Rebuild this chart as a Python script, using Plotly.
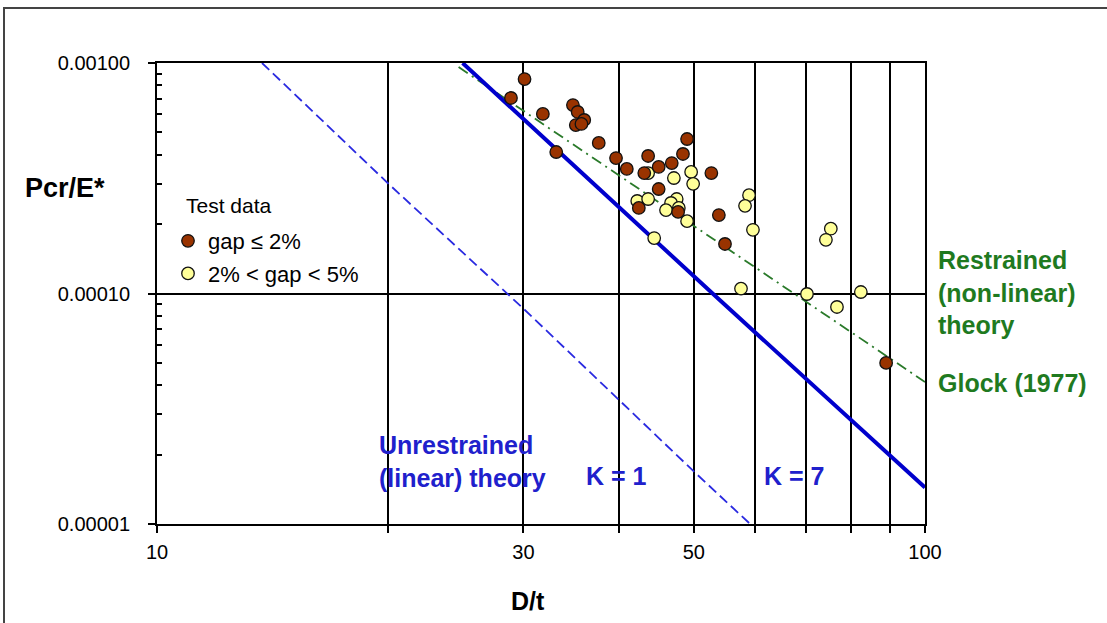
import plotly.graph_objects as go

# ---- data ----
brown_dt = [28.9, 30.1, 31.8, 33.1, 34.8, 35.3, 36.0, 35.1, 35.7, 37.6, 39.6, 40.9, 43.6, 43.1,
            45.0, 46.8, 48.4, 49.0, 52.7, 45.0, 42.4, 47.7, 53.9, 54.9, 89.0]
brown_p = [7.05e-4, 8.52e-4, 6.01e-4, 4.11e-4, 6.57e-4, 6.13e-4, 5.66e-4, 5.38e-4, 5.44e-4, 4.50e-4,
           3.87e-4, 3.47e-4, 3.95e-4, 3.33e-4, 3.54e-4, 3.68e-4, 4.03e-4, 4.68e-4, 3.33e-4, 2.84e-4,
           2.35e-4, 2.26e-4, 2.19e-4, 1.64e-4, 5.0e-5]

yellow_dt = [43.6, 47.1, 49.6, 49.9, 42.2, 43.6, 47.5, 46.7, 46.0, 47.8, 49.0, 44.4, 59.0, 58.3,
             59.7, 57.6, 75.4, 74.3, 70.2, 76.8, 82.5]
yellow_p = [3.33e-4, 3.17e-4, 3.37e-4, 2.99e-4, 2.52e-4, 2.57e-4, 2.57e-4, 2.47e-4, 2.30e-4, 2.35e-4,
            2.06e-4, 1.74e-4, 2.67e-4, 2.40e-4, 1.89e-4, 1.05e-4, 1.91e-4, 1.71e-4, 9.95e-5, 8.74e-5,
            1.015e-4]

k1_dt = [13.7, 20, 30, 40, 50, 59.2]
k1_p = [1.0e-3, 3.0e-4, 8.6e-5, 3.45e-5, 1.69e-5, 1.0e-5]

k7_dt = [25.0, 30, 40, 52.9, 70, 100]
k7_p = [1.0e-3, 5.74e-4, 2.36e-4, 1.0e-4, 4.26e-5, 1.44e-5]

glock_dt = [24.7, 100]
glock_p = [9.6e-4, 4.13e-5]

x_tickvals = [10, 20, 30, 40, 50, 60, 70, 80, 90, 100]
x_ticktext = ["10", "", "30", "", "50", "", "", "", "", "100"]
y_tickvals = [1e-5, 1e-4, 1e-3]
y_ticktext = ["0.00001", "0.00010", "0.00100"]
y_minor = [m * 10.0 ** e for e in (-5, -4) for m in range(2, 10)]

# ---- layout geometry (pixels) ----
W, H = 1107, 623
L, R, T, B = 157, 925, 63, 524
PW, PH = R - L, B - T


def px(x):
    return (x - L) / PW


def py(y):
    return 1 - (y - T) / PH


FONT = "Liberation Sans, Arial, sans-serif"
BLUE_TXT = "#2020CC"
GREEN_TXT = "#1F7A1F"

fig = go.Figure()

fig.add_trace(go.Scatter(x=k1_dt, y=k1_p, mode="lines", showlegend=False,
                         line=dict(color="#2A2AE0", width=1.8, dash="10px,5px")))
fig.add_trace(go.Scatter(x=glock_dt, y=glock_p, mode="lines", showlegend=False,
                         line=dict(color="#2A7A2A", width=1.8, dash="11px,5px,2px,5px")))
fig.add_trace(go.Scatter(x=k7_dt, y=k7_p, mode="lines", showlegend=False,
                         line=dict(color="#0000CC", width=4)))
fig.add_trace(go.Scatter(x=yellow_dt, y=yellow_p, mode="markers", name="2% &lt; gap &lt; 5%",
                         legendrank=2, legendgroup="b",
                         marker=dict(size=12.5, color="#FFFF99", line=dict(color="#111111", width=1.3))))
fig.add_trace(go.Scatter(x=brown_dt, y=brown_p, mode="markers", name="gap ≤ 2%",
                         legendrank=1, legendgroup="a",
                         marker=dict(size=12.5, color="#993300", line=dict(color="#111111", width=1.3))))

annotations = [
    dict(text="<b>Pcr/E*</b>", x=px(65), y=py(188), font=dict(size=27, color="black")),
    dict(text="<b>D/t</b>", x=px(528), y=py(601), font=dict(size=25, color="black")),
    dict(text="Test data", x=px(184), y=py(205), xanchor="left", font=dict(size=21, color="black")),
    dict(text="<b>Unrestrained<br>(linear) theory</b>", x=px(377), y=py(461), xanchor="left",
         align="left", font=dict(size=25, color=BLUE_TXT)),
    dict(text="<b>K = 1</b>", x=px(584), y=py(476), xanchor="left", font=dict(size=25, color=BLUE_TXT)),
    dict(text="<b>K = 7</b>", x=px(762), y=py(476), xanchor="left", font=dict(size=25, color=BLUE_TXT)),
    dict(text="<b>Restrained<br>(non-linear)<br>theory</b>", x=px(936), y=py(292), xanchor="left",
         align="left", font=dict(size=25, color=GREEN_TXT)),
    dict(text="<b>Glock (1977)</b>", x=px(936), y=py(383), xanchor="left",
         font=dict(size=25, color=GREEN_TXT)),
]
for a in annotations:
    a.update(xref="paper", yref="paper", showarrow=False)
    a.setdefault("xanchor", "center")
    a.setdefault("yanchor", "middle")

fig.update_layout(
    width=W, height=H,
    margin=dict(l=L, r=W - R, t=T, b=H - B),
    paper_bgcolor="white", plot_bgcolor="white",
    font=dict(family=FONT, size=20, color="black"),
    annotations=annotations,
    showlegend=True,
    legend=dict(x=px(168), y=py(220), xanchor="left", yanchor="top",
                bgcolor="rgba(0,0,0,0)", font=dict(size=22), tracegroupgap=1),
    shapes=[dict(type="rect", xref="paper", yref="paper",
                 x0=px(4), x1=px(1112), y0=py(628), y1=py(8),
                 line=dict(color="#444444", width=2), layer="below")],
)

fig.update_xaxes(type="log", range=[1, 2], tickmode="array", tickvals=x_tickvals, ticktext=x_ticktext,
                 ticks="outside", ticklen=7, tickwidth=1.5, tickcolor="black",
                 showgrid=True, gridcolor="black", gridwidth=2,
                 showline=True, linecolor="black", linewidth=2, mirror=True,
                 zeroline=False, ticklabelstandoff=2, tickfont=dict(size=20))
fig.update_yaxes(type="log", range=[-5, -3], tickmode="array", tickvals=y_tickvals, ticktext=y_ticktext,
                 ticks="outside", ticklen=7, tickwidth=1.5, tickcolor="black",
                 showgrid=True, gridcolor="black", gridwidth=2,
                 showline=True, linecolor="black", linewidth=2, mirror=True,
                 zeroline=False, ticklabelstandoff=14, tickfont=dict(size=20),
                 minor=dict(tickmode="array", tickvals=y_minor, ticks="inside", ticklen=5,
                            tickwidth=1.5, tickcolor="black", showgrid=False))

fig.write_html("out.html")
